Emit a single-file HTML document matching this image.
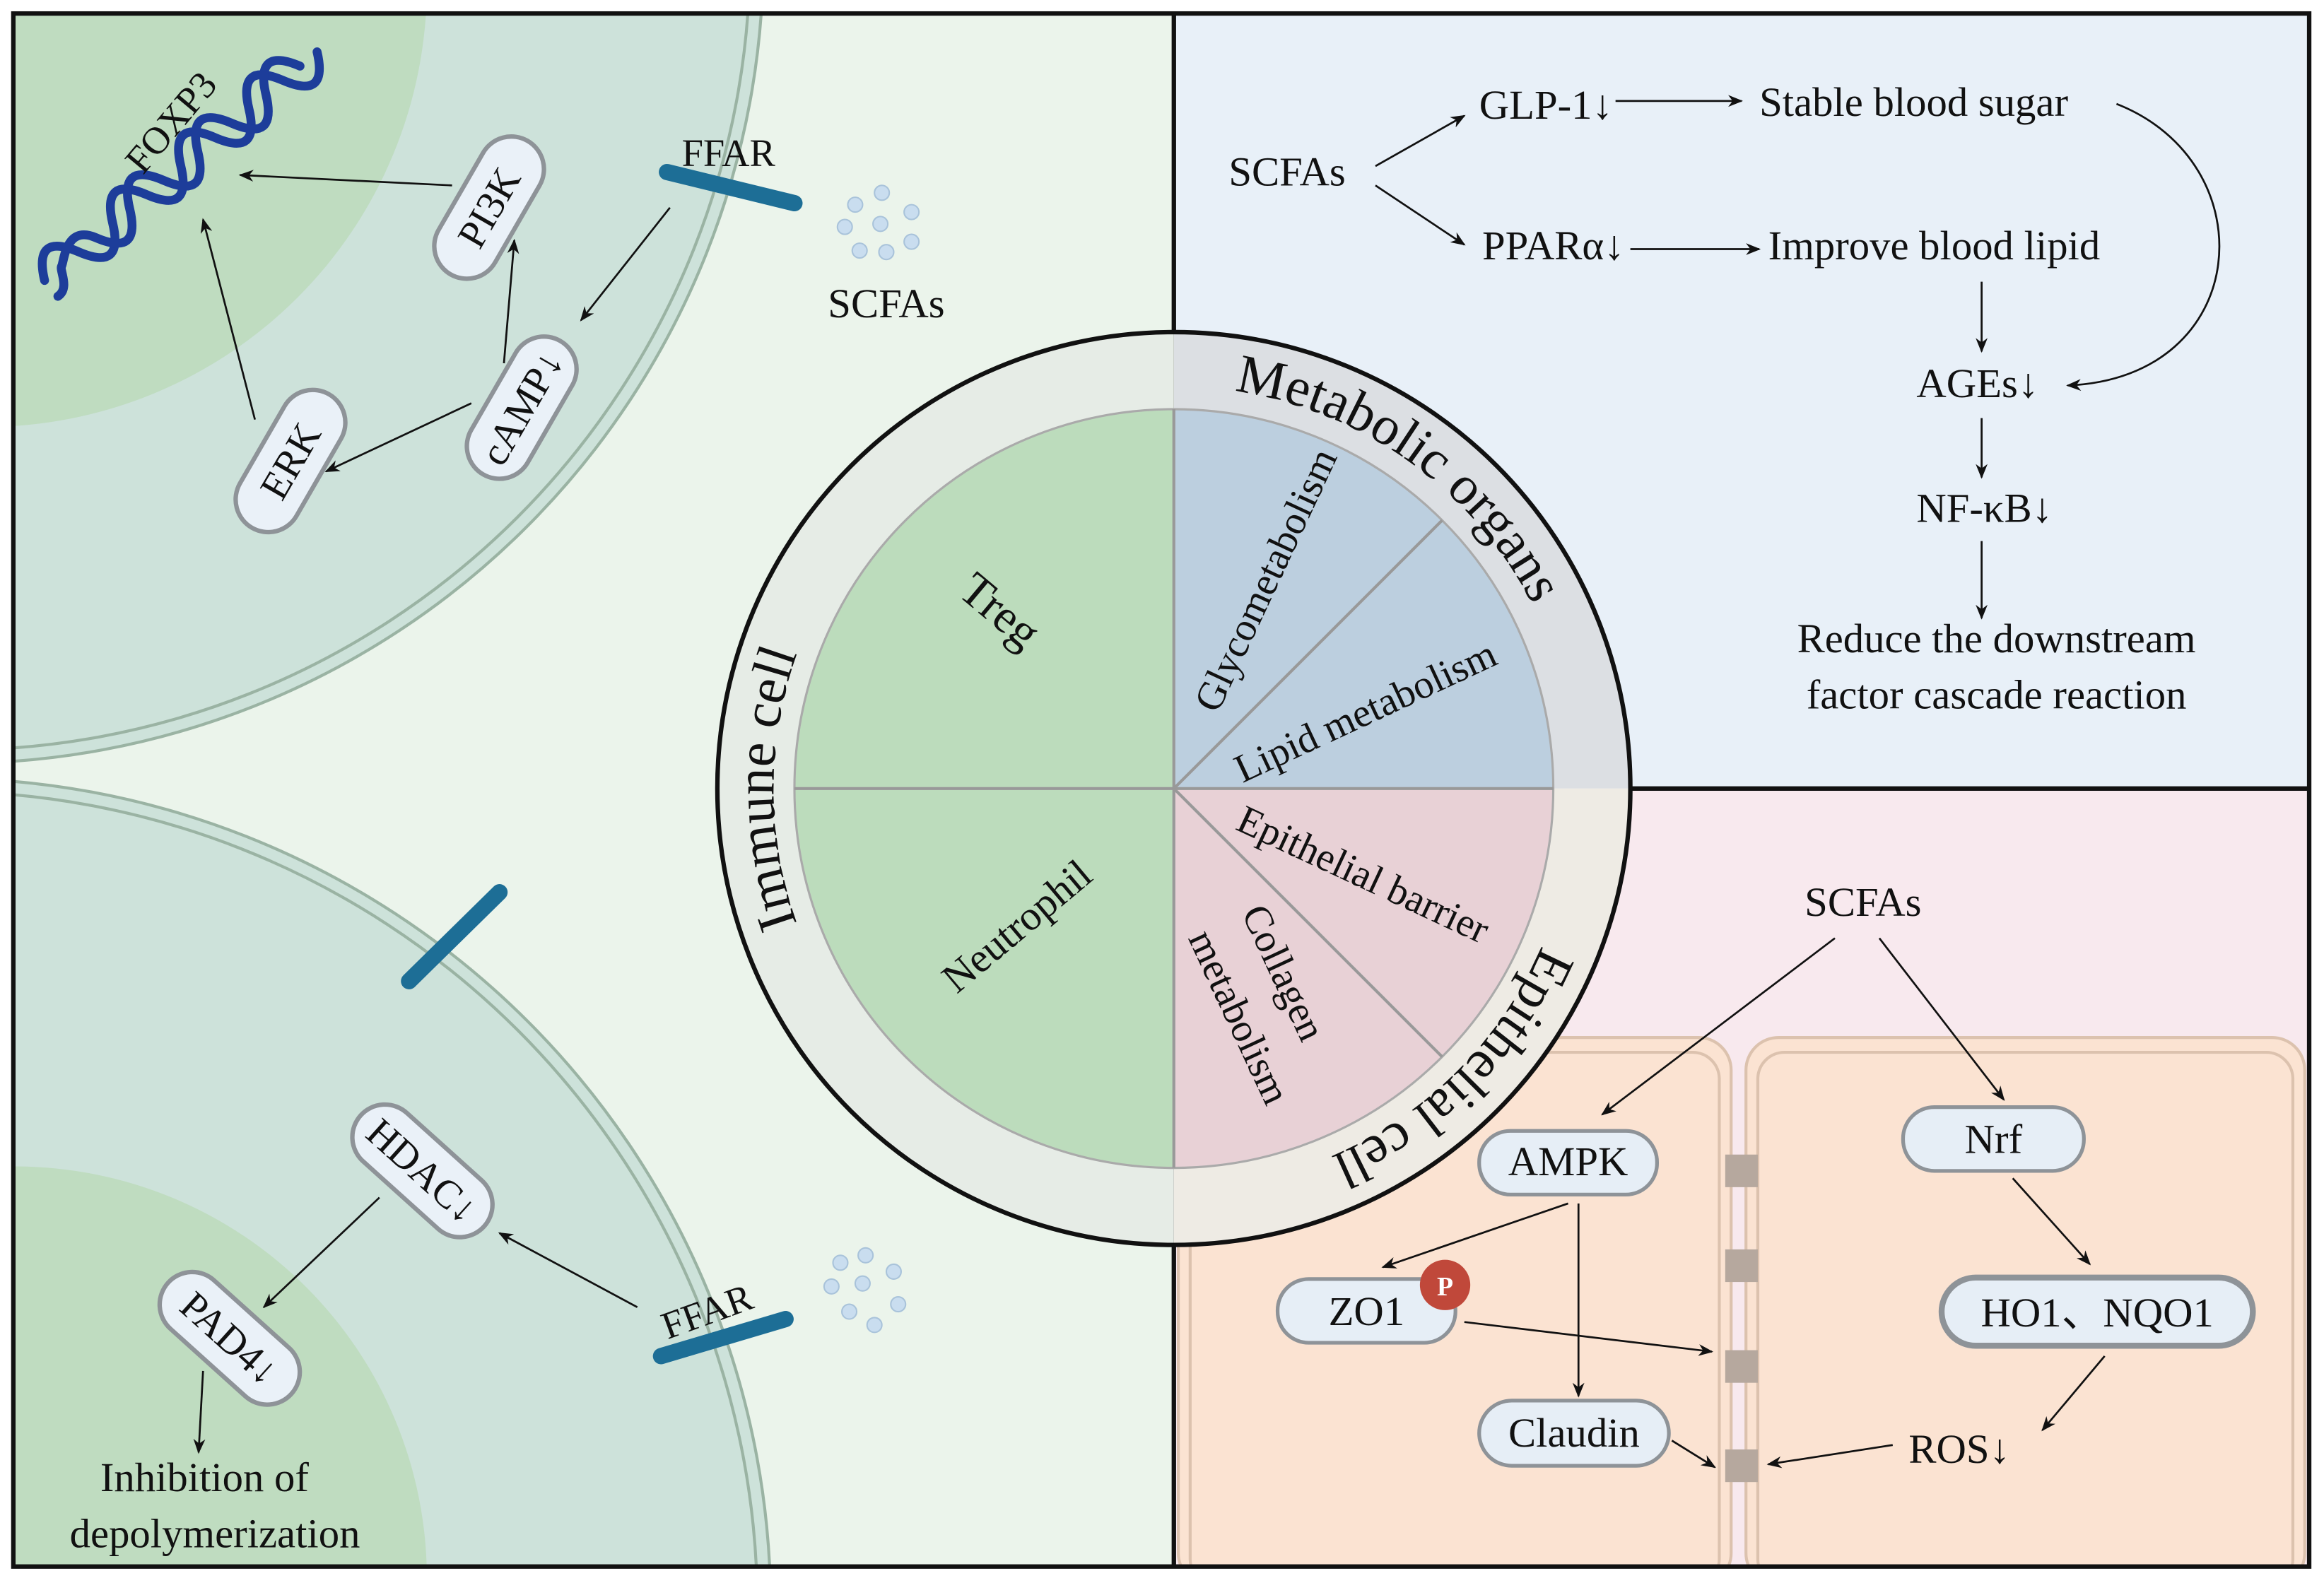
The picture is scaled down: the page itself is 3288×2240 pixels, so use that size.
<!DOCTYPE html>
<html><head><meta charset="utf-8"><style>html,body{margin:0;padding:0;background:#fff;width:3288px;height:2240px;overflow:hidden}svg{display:block}svg text{font-family:"Liberation Serif",serif}</style></head><body>
<svg width="3288" height="2240" viewBox="0 0 1568 1068" xmlns="http://www.w3.org/2000/svg" font-family="Liberation Serif, serif">
<defs>
<marker id="a" markerWidth="10" markerHeight="8" refX="9" refY="4" orient="auto" markerUnits="userSpaceOnUse"><path d="M0,0 L10,4 L0,8 L3,4 Z" fill="#111"/></marker>
<clipPath id="L"><rect x="9" y="9" width="783" height="1048"/></clipPath>
<clipPath id="R"><rect x="792" y="532" width="766" height="525"/></clipPath>
<path id="p1" d="M 745.1 797.9 A 270 270 0 0 1 745.1 266.1"/>
<path id="p2" d="M 680 286 A 270 270 0 0 1 1062 560"/>
<path id="p3" d="M 1025.8 397 A 270 270 0 0 1 657 765.8"/>
</defs>
<rect x="0" y="0" width="1568" height="1068" fill="#fff"/>
<rect x="9" y="9" width="783" height="1048" fill="#ebf4eb"/>
<rect x="792" y="9" width="766" height="523" fill="#e8f0f8"/>
<rect x="792" y="532" width="766" height="525" fill="#f8e9ee"/>
<g clip-path="url(#L)">
<circle cx="-30" cy="-30" r="545" fill="#cde2da" stroke="#9ab3a3" stroke-width="2"/>
<circle cx="-30" cy="-30" r="536" fill="none" stroke="#9ab3a3" stroke-width="2"/>
<circle cx="-10" cy="-10" r="298" fill="#bfdcc0"/>
<circle cx="-40" cy="1085" r="560" fill="#cde2da" stroke="#9ab3a3" stroke-width="2"/>
<circle cx="-40" cy="1085" r="551" fill="none" stroke="#9ab3a3" stroke-width="2"/>
<circle cx="10" cy="1065" r="278" fill="#bfdcc0"/>
</g>
<g clip-path="url(#R)">
<rect x="795" y="700" width="373" height="370" rx="22" fill="#fbe3d2" stroke="#dcc2ae" stroke-width="2"/>
<rect x="803" y="710" width="357" height="360" rx="18" fill="none" stroke="#dcc2ae" stroke-width="2"/>
<rect x="1178" y="700" width="377" height="370" rx="22" fill="#fbe3d2" stroke="#dcc2ae" stroke-width="2"/>
<rect x="1186" y="710" width="361" height="360" rx="18" fill="none" stroke="#dcc2ae" stroke-width="2"/>
</g>
<g fill="#b6a89e"><rect x="1164" y="779" width="22" height="22"/><rect x="1164" y="843" width="22" height="22"/><rect x="1164" y="911" width="22" height="22"/><rect x="1164" y="978" width="22" height="22"/></g>
<rect x="9" y="9" width="1549" height="1048" fill="none" stroke="#111" stroke-width="3"/>
<line x1="792" y1="9" x2="792" y2="1057" stroke="#111" stroke-width="3"/>
<line x1="1100" y1="532" x2="1558" y2="532" stroke="#111" stroke-width="3"/>
<path d="M792,532 L792,224 A308,308 0 0 0 792,840 Z" fill="#e6ece6"/>
<path d="M792,532 L792,224 A308,308 0 0 1 1100,532 Z" fill="#dcdfe3"/>
<path d="M792,532 L1100,532 A308,308 0 0 1 792,840 Z" fill="#eeebe4"/>
<circle cx="792" cy="532" r="308" fill="none" stroke="#111" stroke-width="3"/>
<path d="M792,532 L792,276 A256,256 0 0 0 792,788 Z" fill="#bcdcbc"/>
<path d="M792,532 L792,276 A256,256 0 0 1 1048,532 Z" fill="#bccfdf"/>
<path d="M792,532 L1048,532 A256,256 0 0 1 792,788 Z" fill="#e8d1d6"/>
<circle cx="792" cy="532" r="256" fill="none" stroke="#aaa" stroke-width="1.5"/>
<g stroke="#999" stroke-width="2"><line x1="536" y1="532" x2="1048" y2="532"/><line x1="792" y1="276" x2="792" y2="788"/><line x1="792" y1="532" x2="973" y2="351"/><line x1="792" y1="532" x2="973" y2="713"/></g>
<g fill="#111">
<text font-size="37"><textPath href="#p1" startOffset="50%" text-anchor="middle">Immune cell</textPath></text>
<text font-size="37"><textPath href="#p2" startOffset="50%" text-anchor="middle">Metabolic organs</textPath></text>
<text font-size="37"><textPath href="#p3" startOffset="50%" text-anchor="middle">Epithelial cell</textPath></text>
<text font-size="32" transform="translate(668,420) rotate(40)" text-anchor="middle">Treg</text>
<text font-size="28" transform="translate(692,632) rotate(-40)" text-anchor="middle">Neutrophil</text>
<text font-size="27" transform="translate(862,395) rotate(-65)" text-anchor="middle">Glycometabolism</text>
<text font-size="27" transform="translate(925,488) rotate(-25)" text-anchor="middle">Lipid metabolism</text>
<text font-size="27" transform="translate(916,598) rotate(25)" text-anchor="middle">Epithelial barrier</text>
<text font-size="27" transform="translate(858,660) rotate(65)" text-anchor="middle">Collagen</text>
<text font-size="27" transform="translate(828,690) rotate(65)" text-anchor="middle">metabolism</text>
</g>
<g transform="translate(122,112) rotate(-40)" fill="none" stroke="#1d3d9a" stroke-width="6" stroke-linecap="round">
<path d="M-120,0 c10,-20 20,-20 30,0 s20,20 30,0 s20,-20 30,0 s20,20 30,0 s20,-20 30,0 s20,20 30,0 s20,-20 30,0 s20,20 30,0"/>
<path d="M-105,-14 c10,-1 12,13 15,14 s20,20 30,0 s20,-20 30,0 s20,20 30,0 s20,-20 30,0 s20,20 30,0 s20,-20 30,0 s20,20 30,0" transform="translate(-15,0) scale(1,-1)"/>
</g>
<text font-size="26" fill="#111" transform="translate(122,88) rotate(-50)" text-anchor="middle">FOXP3</text>
<g fill="#eaf1f8" stroke="#8e9398" stroke-width="3">
<rect x="-52" y="-22" width="104" height="44" rx="22" transform="translate(330,140) rotate(-60)"/>
<rect x="-52" y="-22" width="104" height="44" rx="22" transform="translate(352,275) rotate(-60)"/>
<rect x="-52" y="-22" width="104" height="44" rx="22" transform="translate(196,311) rotate(-60)"/>
<rect x="-56" y="-22" width="112" height="44" rx="22" transform="translate(285,790) rotate(42)"/>
<rect x="-56" y="-22" width="112" height="44" rx="22" transform="translate(155,903) rotate(42)"/>
</g>
<g font-size="27" text-anchor="middle" fill="#111">
<text transform="translate(330,140) rotate(-60)" dy="9">PI3K</text>
<text transform="translate(352,275) rotate(-60)" dy="9">cAMP↓</text>
<text transform="translate(196,311) rotate(-60)" dy="9">ERK</text>
<text transform="translate(285,790) rotate(42)" dy="9">HDAC↓</text>
<text transform="translate(155,903) rotate(42)" dy="9">PAD4↓</text>
</g>
<g stroke="#1d6e96" stroke-width="11" stroke-linecap="round">
<line x1="450" y1="116" x2="536" y2="137"/>
<line x1="276" y1="662" x2="337" y2="602"/>
<line x1="446" y1="915" x2="530" y2="890"/>
</g>
<g fill="#111">
<text font-size="26" x="460" y="112">FFAR</text>
<text font-size="26" transform="translate(480,893) rotate(-20)" text-anchor="middle">FFAR</text>
</g>
<g fill="#c9ddef" stroke="#a9c3da"><circle cx="595" cy="130" r="5"/><circle cx="577" cy="138" r="5"/><circle cx="615" cy="143" r="5"/><circle cx="594" cy="151" r="5"/><circle cx="570" cy="153" r="5"/><circle cx="615" cy="163" r="5"/><circle cx="580" cy="169" r="5"/><circle cx="598" cy="170" r="5"/>
<circle cx="584" cy="847" r="5"/><circle cx="567" cy="852" r="5"/><circle cx="603" cy="858" r="5"/><circle cx="582" cy="866" r="5"/><circle cx="561" cy="868" r="5"/><circle cx="606" cy="880" r="5"/><circle cx="573" cy="885" r="5"/><circle cx="590" cy="894" r="5"/></g>
<g fill="#111" font-size="28">
<text x="598" y="214" text-anchor="middle">SCFAs</text>
<text x="138" y="1006" text-anchor="middle">Inhibition of</text>
<text x="145" y="1044" text-anchor="middle">depolymerization</text>
</g>
<g stroke="#111" stroke-width="1.3" marker-end="url(#a)" fill="none">
<line x1="305" y1="125" x2="162" y2="118"/>
<line x1="172" y1="283" x2="137" y2="148"/>
<line x1="340" y1="245" x2="347" y2="162"/>
<line x1="318" y1="272" x2="220" y2="318"/>
<line x1="452" y1="140" x2="392" y2="216"/>
<line x1="430" y1="882" x2="337" y2="832"/>
<line x1="256" y1="808" x2="178" y2="882"/>
<line x1="137" y1="925" x2="134" y2="980"/>
<line x1="928" y1="112" x2="988" y2="78"/>
<line x1="928" y1="125" x2="988" y2="165"/>
<line x1="1090" y1="68" x2="1175" y2="68"/>
<line x1="1100" y1="168" x2="1187" y2="168"/>
<path d="M1428,70 C1530,110 1520,255 1395,260"/>
<line x1="1337" y1="190" x2="1337" y2="237"/>
<line x1="1337" y1="282" x2="1337" y2="322"/>
<line x1="1337" y1="365" x2="1337" y2="417"/>
<line x1="1238" y1="633" x2="1081" y2="752"/>
<line x1="1268" y1="633" x2="1352" y2="742"/>
<line x1="1058" y1="812" x2="933" y2="855"/>
<line x1="1065" y1="812" x2="1065" y2="942"/>
<line x1="988" y1="892" x2="1155" y2="912"/>
<line x1="1128" y1="972" x2="1157" y2="990"/>
<line x1="1277" y1="975" x2="1193" y2="988"/>
<line x1="1358" y1="795" x2="1410" y2="853"/>
<line x1="1420" y1="915" x2="1378" y2="965"/>
</g>
<g font-size="28" fill="#111">
<text x="829" y="125">SCFAs</text>
<text x="998" y="80">GLP-1↓</text>
<text x="1187" y="78">Stable blood sugar</text>
<text x="1000" y="175">PPARα↓</text>
<text x="1193" y="175">Improve blood lipid</text>
<text x="1293" y="268">AGEs↓</text>
<text x="1293" y="352">NF-κB↓</text>
<text x="1347" y="440" text-anchor="middle">Reduce the downstream</text>
<text x="1347" y="478" text-anchor="middle">factor cascade reaction</text>
<text x="1257" y="618" text-anchor="middle">SCFAs</text>
</g>
<g fill="#e6eef6" stroke="#8e9398" stroke-width="2.5">
<rect x="998" y="763" width="120" height="43" rx="21"/>
<rect x="862" y="863" width="120" height="43" rx="21"/>
<rect x="998" y="945" width="128" height="44" rx="22"/>
<rect x="1284" y="747" width="122" height="43" rx="21"/>
<rect x="1310" y="862" width="210" height="46" rx="23" stroke-width="4"/>
</g>
<circle cx="975" cy="867" r="17" fill="#c0483a"/>
<text x="975" y="874" font-size="18" fill="#fff" text-anchor="middle" font-weight="bold">P</text>
<g font-size="28" text-anchor="middle" fill="#111">
<text x="1058" y="793">AMPK</text>
<text x="922" y="894">ZO1</text>
<text x="1062" y="976">Claudin</text>
<text x="1345" y="778">Nrf</text>
<text x="1415" y="895">HO1、NQO1</text>
<text x="1322" y="987">ROS↓</text>
</g>
</svg>
</body></html>
